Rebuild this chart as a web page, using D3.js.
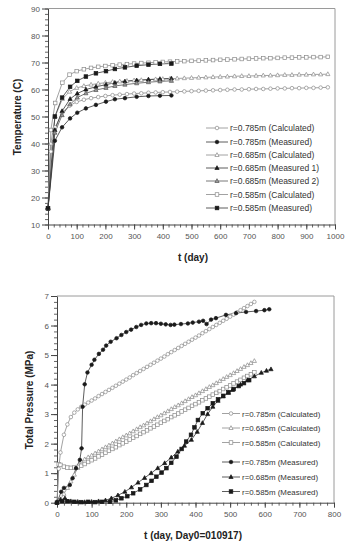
<!DOCTYPE html>
<html><head><meta charset="utf-8">
<script src="https://cdn.jsdelivr.net/npm/d3@7"></script>
<style>
html,body{margin:0;padding:0;background:#fff;}
svg{display:block;font-family:"Liberation Sans",Arial,sans-serif;}
</style></head>
<body><svg id="c" width="347" height="544"></svg>
<script>
// ===== Chart 1: Temperature =====
const tempTicksX = [0,100,200,300,400,500,600,700,800,900,1000];
const tempTicksY = [10,20,30,40,50,60,70,80,90];
const tCalc1 = [0,10,25,50,75,100,125,150,175,200,225,250,275,300,325,350,375,400,425,450,475,500,525,550,575,600,625,650,675,700,725,750,775,800,825,850,875,900,925,950,975];
const T585calc = [16,45,55,62.5,65.5,66.8,67.5,68,68.4,68.7,69,69.2,69.4,69.6,69.8,69.9,70.1,70.2,70.3,70.4,70.5,70.6,70.7,70.8,70.9,71,71.1,71.2,71.3,71.4,71.5,71.6,71.6,71.7,71.8,71.8,71.9,71.9,72,72,72.1];
const T685calc = [16,40,50,56.5,59.2,60.6,61.3,61.8,62.2,62.5,62.8,63,63.2,63.4,63.5,63.6,63.8,63.9,64,64.1,64.2,64.3,64.4,64.5,64.6,64.7,64.8,64.9,65,65,65.1,65.2,65.2,65.3,65.4,65.4,65.5,65.5,65.6,65.6,65.7];
const T785calc = [16,37,46,51.5,54,55.4,56.2,56.8,57.2,57.6,57.9,58.1,58.3,58.5,58.6,58.8,58.9,59,59.1,59.2,59.3,59.4,59.5,59.6,59.7,59.8,59.9,60,60,60.1,60.2,60.2,60.3,60.4,60.4,60.5,60.5,60.6,60.6,60.7,60.8];
const tMeas1 = [0,24,49,77,102,132,167,202,233,268,309,350,390,430];
const T785meas = [16,41,46,49.3,51.4,53,54.3,55.5,56.4,56.8,57.3,57.6,57.7,57.8];
const T685meas1 = [16,45,52,56.5,58.5,60,61,61.8,62.5,63,63.4,63.7,63.9,64.1];
const T685meas2 = [16,44,50.5,54.5,57,58.6,59.8,60.6,61.3,61.8,62.3,62.7,63,63.2];
const T585meas = [16,50,57,61,63.2,64.8,66,66.8,67.6,68.2,68.8,69.2,69.5,69.6];
const legend1 = ["r=0.785m (Calculated)","r=0.785m (Measured)","r=0.685m (Calculated)","r=0.685m (Measured 1)","r=0.685m (Measured 2)","r=0.585m (Calculated)","r=0.585m (Measured)"];

// ===== Chart 2: Total pressure =====
const presTicksX = [0,100,200,300,400,500,600,700,800];
const presTicksY = [0,1,2,3,4,5,6,7];
const tCalc2 = [0,5,10,20,30,40,50,60,70,80,90,100,110,120,130,140,150,160,170,180,190,200,210,220,230,240,250,260,270,280,290,300,310,320,330,340,350,360,370,380,390,400,410,420,430,440,450,460,470,480,490,500,510,520,530,540,550,560,570];
const P785calc = [0,1.15,1.7,2.3,2.65,2.9,3.05,3.16,3.25,3.32,3.39,3.46,3.53,3.61,3.68,3.75,3.82,3.89,3.96,4.03,4.10,4.17,4.24,4.32,4.39,4.46,4.53,4.60,4.67,4.74,4.81,4.88,4.95,5.03,5.10,5.17,5.24,5.31,5.38,5.45,5.52,5.59,5.66,5.74,5.81,5.88,5.95,6.02,6.09,6.16,6.23,6.30,6.37,6.45,6.52,6.59,6.66,6.73,6.80];
const P685calc = [0,0.06,0.12,0.3,0.5,0.72,0.95,1.18,1.40,1.47,1.54,1.60,1.67,1.74,1.81,1.88,1.94,2.01,2.08,2.15,2.22,2.28,2.35,2.42,2.49,2.56,2.62,2.69,2.76,2.83,2.90,2.96,3.03,3.10,3.17,3.24,3.30,3.37,3.44,3.51,3.58,3.64,3.71,3.78,3.85,3.92,3.98,4.05,4.12,4.19,4.26,4.32,4.39,4.46,4.53,4.60,4.66,4.73,4.80];
const P585calc = [0,1.3,1.28,1.22,1.19,1.18,1.19,1.21,1.25,1.31,1.38,1.44,1.50,1.57,1.63,1.69,1.76,1.82,1.88,1.95,2.01,2.07,2.14,2.20,2.26,2.33,2.39,2.45,2.52,2.58,2.64,2.71,2.77,2.83,2.90,2.96,3.02,3.09,3.15,3.21,3.28,3.34,3.40,3.47,3.53,3.59,3.66,3.72,3.78,3.85,3.91,3.97,4.04,4.10,4.16,4.23,4.29,4.35,4.42];
const t785meas = [0,12,20,37,45,55,66,71,74,80,88,100,108,121,133,142,155,172,186,200,214,229,243,258,272,286,300,314,328,339,358,378,392,410,422,432,445,459,488,517,546,575,599,613];
const P785meas = [0,0.37,0.5,0.6,0.83,1.17,1.45,1.84,3.25,4.01,4.41,4.67,4.84,5.04,5.18,5.32,5.45,5.57,5.68,5.78,5.86,5.95,6.02,6.07,6.08,6.08,6.06,6.04,6.02,6.03,6.05,6.07,6.1,6.13,6.16,6.05,6.2,6.25,6.36,6.42,6.46,6.49,6.52,6.55];
const t685meas = [0,10,23,40,60,80,100,120,140,157,176,196,215,234,253,272,291,311,330,349,368,388,405,420,435,450,465,480,495,507,530,550,570,590,605,618];
const P685meas = [0.02,0.1,0.15,0.05,0.03,0.02,0.03,0.05,0.08,0.15,0.25,0.37,0.52,0.68,0.84,1.0,1.17,1.34,1.53,1.73,1.93,2.13,2.4,2.7,3.0,3.25,3.45,3.6,3.72,3.82,4.0,4.15,4.28,4.4,4.47,4.52];
const t585meas = [0,15,30,50,70,90,110,130,153,170,186,203,220,240,258,273,287,302,316,330,345,360,373,387,397,407,421,435,450,465,480,495,510,525,540,555];
const P585meas = [0,0.05,0.05,0.03,0.02,0.03,0.02,0.03,0.03,0.08,0.15,0.22,0.32,0.45,0.6,0.74,0.88,1.02,1.17,1.35,1.56,1.82,2.07,2.3,2.55,2.8,3.03,3.2,3.37,3.5,3.62,3.74,3.85,3.95,4.05,4.15];
const legend2 = ["r=0.785m (Calculated)","r=0.685m (Calculated)","r=0.585m (Calculated)","r=0.785m (Measured)","r=0.685m (Measured)","r=0.585m (Measured)"];

const svg = d3.select("#c");
const GRAY = "#8a8a8a", DARK = "#1a1a1a", FRAME = "#9a9a9a";

function marker(g, type, x, y, s){
  const col = s.color, fill = s.fill;
  if(type==="circle"){
    g.append("circle").attr("cx",x).attr("cy",y).attr("r",1.8).attr("fill",fill).attr("stroke",col).attr("stroke-width",0.7);
  } else if(type==="square"){
    g.append("rect").attr("x",x-1.8).attr("y",y-1.8).attr("width",3.6).attr("height",3.6).attr("fill",fill).attr("stroke",col).attr("stroke-width",0.7);
  } else {
    g.append("path").attr("d",`M${x},${y-2.3}L${x+2.1},${y+1.5}L${x-2.1},${y+1.5}Z`).attr("fill",fill).attr("stroke",col).attr("stroke-width",0.7);
  }
}

function drawChart(cfg){
  const x = d3.scaleLinear().domain(cfg.xDom).range(cfg.xR);
  const y = d3.scaleLinear().domain(cfg.yDom).range(cfg.yR);
  const g = svg.append("g");
  g.append("path").attr("d",`M${cfg.xR[0]},${cfg.yR[1]}H${cfg.xR[1]}V${cfg.yR[0]}`).attr("fill","none").attr("stroke",FRAME).attr("stroke-width",1);
  const xa = d3.axisBottom(x).tickValues(d3.range(cfg.xDom[0],cfg.xDom[1]+0.001,cfg.xMinor)).tickSize(3).tickFormat("");
  const ya = d3.axisLeft(y).tickValues(d3.range(cfg.yDom[0],cfg.yDom[1]+0.001,cfg.yMinor)).tickSize(3).tickFormat("");
  g.append("g").attr("transform",`translate(0,${cfg.yR[0]})`).call(xa).call(s=>{s.select(".domain").remove();s.selectAll("line").attr("stroke","#666");});
  g.append("g").attr("transform",`translate(${cfg.xR[0]},0)`).call(ya).call(s=>{s.select(".domain").remove();s.selectAll("line").attr("stroke","#666");});
  const fmt = d3.format("d");
  const xM = d3.axisBottom(x).tickValues(cfg.xTicks).tickFormat(fmt).tickSize(5).tickSizeOuter(0).tickPadding(4);
  const yM = d3.axisLeft(y).tickValues(cfg.yTicks).tickFormat(fmt).tickSize(6).tickSizeOuter(0).tickPadding(2);
  g.append("g").attr("transform",`translate(0,${cfg.yR[0]})`).call(xM).call(s=>{
    s.select(".domain").attr("stroke","#444");
    s.selectAll("line").attr("stroke","#444");
    s.selectAll("text").attr("fill","#555").attr("font-size",8);
  });
  g.append("g").attr("transform",`translate(${cfg.xR[0]},0)`).call(yM).call(s=>{
    s.select(".domain").attr("stroke","#444");
    s.selectAll("line").attr("stroke","#444");
    s.selectAll("text").attr("fill","#555").attr("font-size",8);
  });
  g.append("text").attr("x",cfg.xTitle[0]).attr("y",cfg.xTitle[1]).attr("text-anchor","middle")
    .attr("font-size",10).attr("font-weight","bold").attr("fill","#222").text(cfg.xLabel);
  g.append("text").attr("transform",`translate(${cfg.yTitle[0]},${cfg.yTitle[1]}) rotate(-90)`).attr("text-anchor","middle")
    .attr("font-size",10).attr("font-weight","bold").attr("fill","#222").text(cfg.yLabel);
  const line = d3.line().x(d=>x(d[0])).y(d=>y(d[1]));
  cfg.series.forEach(s=>{
    const pts = s.t.map((t,i)=>[t,s.v[i]]);
    g.append("path").datum(pts).attr("d",line).attr("fill","none").attr("stroke",s.line).attr("stroke-width",s.lw||0.8);
  });
  cfg.series.forEach(s=>{
    const mg = g.append("g");
    s.t.forEach((t,i)=>marker(mg,s.type,x(t),y(s.v[i]),s));
  });
  const lg = g.append("g");
  cfg.legend.forEach((name,i)=>{
    const s = cfg.legendSeries[i];
    const ly = cfg.legY[i];
    lg.append("line").attr("x1",cfg.legX[0]).attr("x2",cfg.legX[1]).attr("y1",ly).attr("y2",ly).attr("stroke",s.line).attr("stroke-width",0.8);
    marker(lg,s.type,(cfg.legX[0]+cfg.legX[1])/2,ly,s);
    lg.append("text").attr("x",cfg.legX[1]+2).attr("y",ly+3).attr("font-size",cfg.legFont).attr("fill","#333").text(name);
  });
}

const sC785 = {type:"circle",color:GRAY,fill:"#fff",line:GRAY};
const sC685 = {type:"tri",color:GRAY,fill:"#fff",line:GRAY};
const sC585 = {type:"square",color:GRAY,fill:"#fff",line:GRAY};
const sM785 = {type:"circle",color:DARK,fill:DARK,line:"#333"};
const sM685 = {type:"tri",color:DARK,fill:DARK,line:"#333"};
const sM685b = {type:"tri",color:"#555",fill:"#999",line:"#555"};
const sM585 = {type:"square",color:DARK,fill:DARK,line:"#333"};

drawChart({
  xDom:[0,1000], xR:[48,335], yDom:[10,90], yR:[224.5,8.5],
  xTicks:tempTicksX, yTicks:tempTicksY, xMinor:20, yMinor:2,
  xLabel:"t (day)", yLabel:"Temperature (C)", xTitle:[193,261], yTitle:[21,117],
  series:[
    Object.assign({t:tCalc1,v:T585calc},sC585),
    Object.assign({t:tCalc1,v:T685calc},sC685),
    Object.assign({t:tCalc1,v:T785calc},sC785),
    Object.assign({t:tMeas1,v:T585meas},sM585),
    Object.assign({t:tMeas1,v:T685meas1},sM685),
    Object.assign({t:tMeas1,v:T685meas2},sM685b),
    Object.assign({t:tMeas1,v:T785meas},sM785)
  ],
  legend:legend1, legendSeries:[sC785,sM785,sC685,sM685,sM685b,sC585,sM585],
  legX:[206,228], legY:[128,142,155,168,181,194.5,208], legFont:8.5
});

drawChart({
  xDom:[0,800], xR:[57,334], yDom:[0,7], yR:[502.7,296],
  xTicks:presTicksX, yTicks:presTicksY, xMinor:20, yMinor:0.2,
  xLabel:"t (day, Day0=010917)", yLabel:"Total Pressure (MPa)", xTitle:[193,539], yTitle:[33,400],
  series:[
    Object.assign({t:tCalc2,v:P785calc},sC785),
    Object.assign({t:tCalc2,v:P685calc},sC685),
    Object.assign({t:tCalc2,v:P585calc},sC585),
    Object.assign({t:t785meas,v:P785meas},sM785),
    Object.assign({t:t685meas,v:P685meas},sM685),
    Object.assign({t:t585meas,v:P585meas},sM585)
  ],
  legend:legend2, legendSeries:[sC785,sC685,sC585,sM785,sM685,sM585],
  legX:[222,240], legY:[413.5,428,442.5,462,477,491.5], legFont:7.9
});
</script></body></html>
